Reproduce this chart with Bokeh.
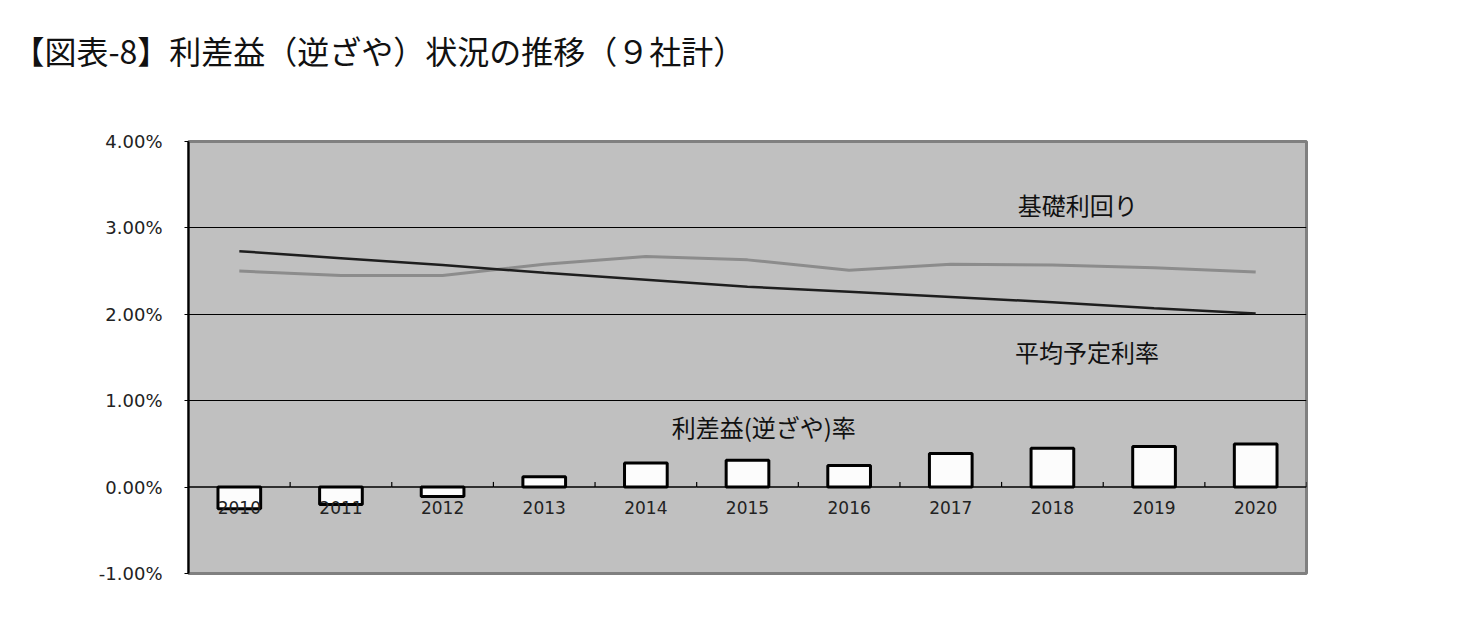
from bokeh.plotting import figure
from bokeh.models import (FactorRange, Range1d, ColumnDataSource, Label, Title,
                          FixedTicker, CustomJSTickFormatter)
from bokeh.transform import dodge
from bokeh.core.properties import value
from bokeh.embed import file_html
from bokeh.resources import INLINE

# ---- data ----
years = ["2010", "2011", "2012", "2013", "2014", "2015",
         "2016", "2017", "2018", "2019", "2020"]
spread_rate = [-0.25, -0.20, -0.11, 0.12, 0.28, 0.31, 0.25, 0.39, 0.45, 0.47, 0.50]   # 利差益(逆ざや)率 %
base_yield = [2.50, 2.45, 2.45, 2.58, 2.67, 2.63, 2.51, 2.58, 2.57, 2.54, 2.49]      # 基礎利回り %
assumed_rate = [2.73, 2.65, 2.57, 2.48, 2.40, 2.32, 2.26, 2.20, 2.14, 2.07, 2.01]    # 平均予定利率 %
y_ticks = [-1, 0, 1, 2, 3, 4]

title_text = "【図表-8】利差益（逆ざや）状況の推移（９社計）"
label_base = "基礎利回り"
label_assumed = "平均予定利率"
label_spread = "利差益(逆ざや)率"

src = ColumnDataSource(dict(year=years, spread=spread_rate,
                            base=base_yield, assumed=assumed_rate))

JP = "Noto Sans CJK JP"
NUM = "DejaVu Sans"

p = figure(width=1453, height=620, output_backend="svg", toolbar_location=None,
           x_range=FactorRange(factors=years, range_padding=0),
           y_range=Range1d(-1, 4),
           min_border_left=188, min_border_right=147,
           min_border_top=141, min_border_bottom=47)

# spacer panel between frame and title (pushes the title up)
p.add_layout(Title(text=" ", text_font_size="1px", standoff=66,
                   text_color="white"), "above")
p.title = Title(text=title_text, align="left", offset=-176, standoff=0,
                text_font=JP, text_font_size="32px", text_font_style="normal",
                text_color="#111111")

p.background_fill_color = "#c0c0c0"
p.border_fill_color = "white"
p.outline_line_color = "#808080"
p.outline_line_width = 3

p.xaxis.visible = False
p.xgrid.visible = False
p.ygrid.ticker = FixedTicker(ticks=[1, 2, 3])
p.ygrid.grid_line_color = "black"
p.ygrid.grid_line_width = 1.2

ya = p.yaxis[0]
ya.ticker = FixedTicker(ticks=y_ticks)
ya.formatter = CustomJSTickFormatter(code="return tick.toFixed(2) + '%';")
ya.axis_line_color = "black"
ya.axis_line_width = 2
ya.major_tick_out = 4
ya.major_tick_in = 0
ya.minor_tick_line_color = None
ya.major_label_standoff = 22
ya.major_label_text_font = NUM
ya.major_label_text_font_size = "18px"
ya.major_label_text_color = "#222222"

# zero line
p.segment(x0=dodge("year", -0.5, range=p.x_range), y0=0,
          x1=dodge("year", 0.5, range=p.x_range), y1=0,
          source=src, line_color="black", line_width=1.5)
# category tick marks on the zero line
p.segment(x0=dodge("year", 0.5, range=p.x_range), y0=0,
          x1=dodge("year", 0.5, range=p.x_range), y1=0.06,
          source=src, line_color="black", line_width=1.2)

# bars
p.vbar(x="year", top="spread", bottom=0, width=0.42, source=src,
       fill_color="#fcfcfc", line_color="black", line_width=3)

# lines
p.line(x="year", y="base", source=src, line_color="#8c8c8c", line_width=3)
p.line(x="year", y="assumed", source=src, line_color="#1e1e1e", line_width=2.5)

# category labels along the zero line
p.text(x="year", y=0, text="year", source=src, y_offset=20,
       text_align="center", text_baseline="middle",
       text_font=value(NUM), text_font_size="17px", text_color="#222222")

# series labels
for txt, xx, yy in [(label_base, 8.75, 3.27), (label_assumed, 8.84, 1.57),
                    (label_spread, 5.66, 0.70)]:
    p.add_layout(Label(x=xx, y=yy, text=txt, text_align="center",
                       text_baseline="middle", text_font=JP,
                       text_font_size="24px", text_color="#111111"))

open("out.html", "w").write(file_html(p, INLINE))
